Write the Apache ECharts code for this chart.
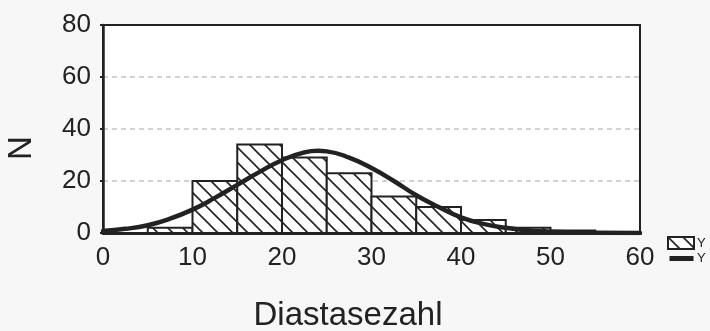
<!DOCTYPE html>
<html>
<head>
<meta charset="utf-8">
<script src="https://cdn.jsdelivr.net/npm/echarts@6/dist/echarts.min.js"></script>
<style>
  html, body { margin: 0; background: #f7f7f7; }
  #chart { width: 710px; height: 331px; }
</style>
</head>
<body>
<div id="chart"></div>
<script>
// histogram bins (Diastasezahl) and counts
const binStart = [5, 10, 15, 20, 25, 30, 35, 40, 45, 50, 55]
const binEnd = [10, 15, 20, 25, 30, 35, 40, 45, 50, 55, 60]
const counts = [2, 20, 34, 29, 23, 14, 10, 5, 2, 1, 0.4]

// fitted normal curve
const curveX = [0, 2.5, 5, 7.5, 10, 12.5, 15, 17.5, 20, 22.5, 24, 25, 27.5, 30, 32.5, 35, 37.5, 40, 42.5, 45, 47.5, 50, 55, 60]
const curveY = [0.8, 1.6, 3, 5.5, 9, 13.5, 18.5, 23.5, 28, 31, 31.6, 31.4, 29, 25, 20, 14.5, 10, 6, 3.5, 2, 1, 0.5, 0.1, 0]

const xTicks = [0, 10, 20, 30, 40, 50, 60]
const yTicks = [0, 20, 40, 60, 80]

// hatch pattern: lines running top-left to bottom-right
function makeHatch() {
  const c = document.createElement('canvas')
  c.width = 15
  c.height = 15
  const ctx = c.getContext('2d')
  ctx.fillStyle = '#ffffff'
  ctx.fillRect(0, 0, 15, 15)
  ctx.strokeStyle = '#222222'
  ctx.lineWidth = 1.6
  ctx.beginPath()
  ctx.moveTo(-2, -2); ctx.lineTo(17, 17)
  ctx.moveTo(-2, 13); ctx.lineTo(2, 17)
  ctx.moveTo(13, -2); ctx.lineTo(17, 2)
  ctx.stroke()
  return c
}
const hatch = { image: makeHatch(), repeat: 'repeat' }

const barData = binStart.map((s, i) => [s, binEnd[i], counts[i]])
const curveData = curveX.map((x, i) => [x, curveY[i]])

const chart = echarts.init(document.getElementById('chart'))

const font = 'Liberation Sans, Arial, sans-serif'

chart.setOption({
  backgroundColor: '#f7f7f7',
  animation: false,
  grid: {
    left: 103, right: 70, top: 25, bottom: 98,
    show: true, backgroundColor: '#ffffff',
    borderColor: '#222', borderWidth: 2
  },
  xAxis: {
    type: 'value', min: 0, max: 60, interval: 10,
    axisLine: { show: true, lineStyle: { color: '#222', width: 3 } },
    axisTick: { show: false },
    splitLine: { show: false },
    axisLabel: {
      color: '#222', fontSize: 26, fontFamily: font, margin: 12,
      formatter: v => xTicks.includes(v) ? String(v) : ''
    }
  },
  yAxis: {
    type: 'value', min: 0, max: 80, interval: 20,
    axisLine: { show: true, lineStyle: { color: '#222', width: 2.5 } },
    axisTick: { show: true, length: 3, lineStyle: { color: '#222', width: 2 } },
    splitLine: {
      show: true,
      lineStyle: { color: '#c4c4c4', type: [5, 4], width: 1.5 },
      showMaxLine: false
    },
    axisLabel: {
      color: '#222', fontSize: 26, fontFamily: font, margin: 12,
      formatter: v => yTicks.includes(v) ? String(v) : ''
    }
  },
  legend: {
    orient: 'vertical',
    left: 662, top: 231,
    itemGap: 2,
    itemWidth: 26, itemHeight: 12,
    textStyle: { fontSize: 13, color: '#222', fontFamily: font, padding: [0, 0, 0, -2] },
    data: [
      { name: 'Y', icon: 'rect' },
      { name: 'Y ', icon: 'path://M0,0 M0,12 M1,3.5 L25,3.5 L25,8.5 L1,8.5 Z', itemStyle: { color: '#222', borderWidth: 0 } }
    ],
    formatter: n => n.trim()
  },
  series: [
    {
      name: 'Y',
      type: 'custom',
      encode: { x: [0, 1], y: 2 },
      data: barData,
      itemStyle: { color: hatch, borderColor: '#222', borderWidth: 2.5 },
      renderItem(params, api) {
        const p0 = api.coord([api.value(0), api.value(2)])
        const p1 = api.coord([api.value(1), 0])
        return {
          type: 'rect',
          shape: { x: p0[0], y: p0[1], width: p1[0] - p0[0], height: p1[1] - p0[1] },
          style: { fill: hatch, stroke: '#222', lineWidth: 2 }
        }
      },
      z: 2
    },
    {
      name: 'Y ',
      type: 'line',
      data: curveData,
      smooth: true,
      symbol: 'none',
      lineStyle: { color: '#222', width: 4.5, cap: 'round' },
      itemStyle: { color: '#222' },
      z: 3
    }
  ],
  graphic: [
    {
      type: 'text', x: 348, y: 316,
      style: { text: 'Diastasezahl', font: '33px ' + font, fill: '#222', textAlign: 'center', textVerticalAlign: 'middle' }
    },
    {
      type: 'text', x: 22, y: 148, rotation: Math.PI / 2,
      style: { text: 'N', font: '33px ' + font, fill: '#222', textAlign: 'center', textVerticalAlign: 'middle' }
    }
  ]
})
</script>
</body>
</html>
